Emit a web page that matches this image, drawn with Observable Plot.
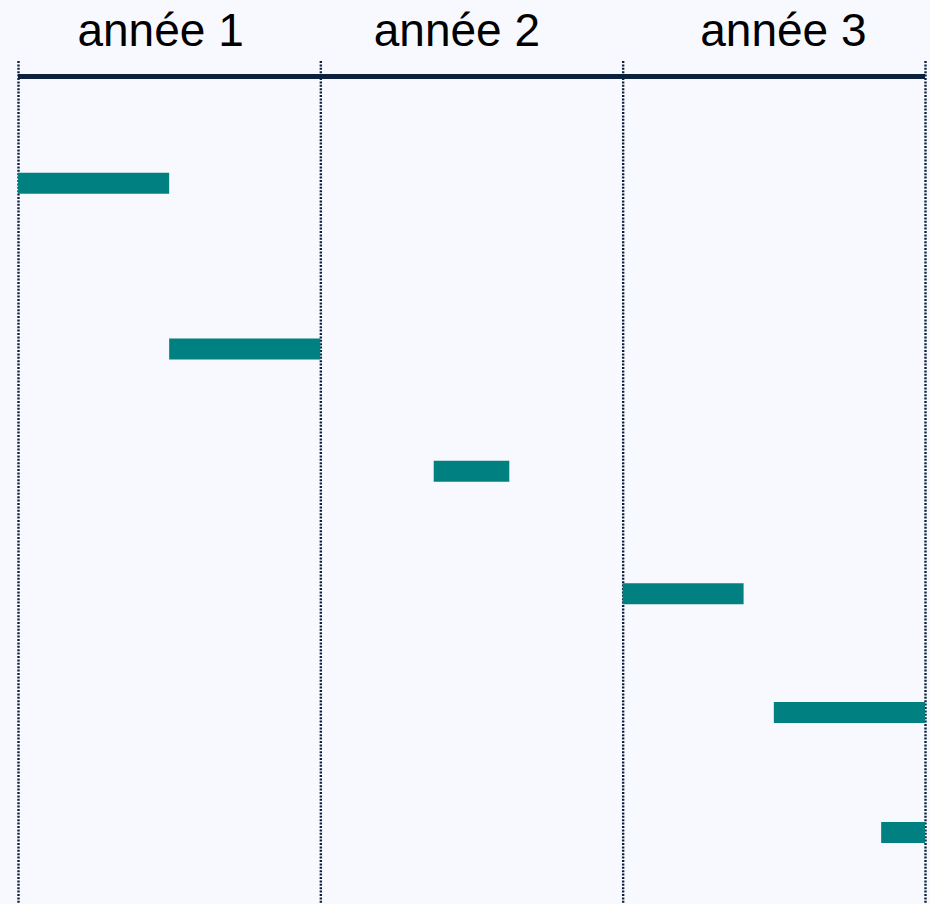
<!DOCTYPE html>
<html>
<head>
<meta charset="utf-8">
<script src="https://cdn.jsdelivr.net/npm/d3@7"></script>
<script src="https://cdn.jsdelivr.net/npm/@observablehq/plot@0.6"></script>
<style>
  html, body { margin: 0; padding: 0; background: #f8f9fe; }
  #chart svg { display: block; background: linear-gradient(180deg, #f9f9fe 0%, #f7f9fd 55%, #f0f4f7 80%, #eaf0f3 100%); }
</style>
</head>
<body>
<div id="chart"></div>
<script>
// Years (boundaries in year units) and their labels
const yearBounds = [0, 1, 2, 3];
const yearLabels = ["année 1", "année 2", "année 3"];
const yearLabelX = [0.47, 1.45, 2.53];

// Tasks: start / end in years, row position
const taskStart = [0, 0.5, 1.375, 2.0, 2.5, 2.855];
const taskEnd   = [0.5, 1.0, 1.625, 2.4, 3.0, 3.0];
const taskRow   = [0.89, 2.27, 3.29, 4.31, 5.30, 6.30];

const tasks = taskStart.map((s, i) => ({start: s, end: taskEnd[i], row: taskRow[i]}));
const labels = yearLabels.map((t, i) => ({text: t, x: yearLabelX[i]}));

const teal = "#008080";
const navy = "#0b213d";

const chart = Plot.plot({
  width: 930,
  height: 904,
  marginLeft: 18,
  marginRight: 5,
  marginTop: 0,
  marginBottom: 0,
  x: {domain: [0, 3], axis: null},
  y: {domain: [-76 / 120, 828 / 120], axis: null, reverse: true},
  style: {background: "transparent", fontFamily: "'Liberation Sans', Arial, sans-serif"},
  marks: [
    Plot.ruleX(yearBounds, {x: d => d, y1: -0.125, y2: 6.9, stroke: navy, strokeWidth: 2.4, strokeDasharray: "2,1.4"}),
    Plot.ruleY([0], {x1: 0, x2: 3, stroke: navy, strokeWidth: 5}),
    Plot.ruleY(tasks, {y: "row", x1: "start", x2: "end", stroke: teal, strokeWidth: 21}),
    Plot.text(labels, {x: "x", y: -0.38, text: "text", fontSize: 46, fill: "#000", textAnchor: "middle", lineAnchor: "middle"})
  ]
});
document.getElementById("chart").appendChild(chart);
</script>
</body>
</html>
